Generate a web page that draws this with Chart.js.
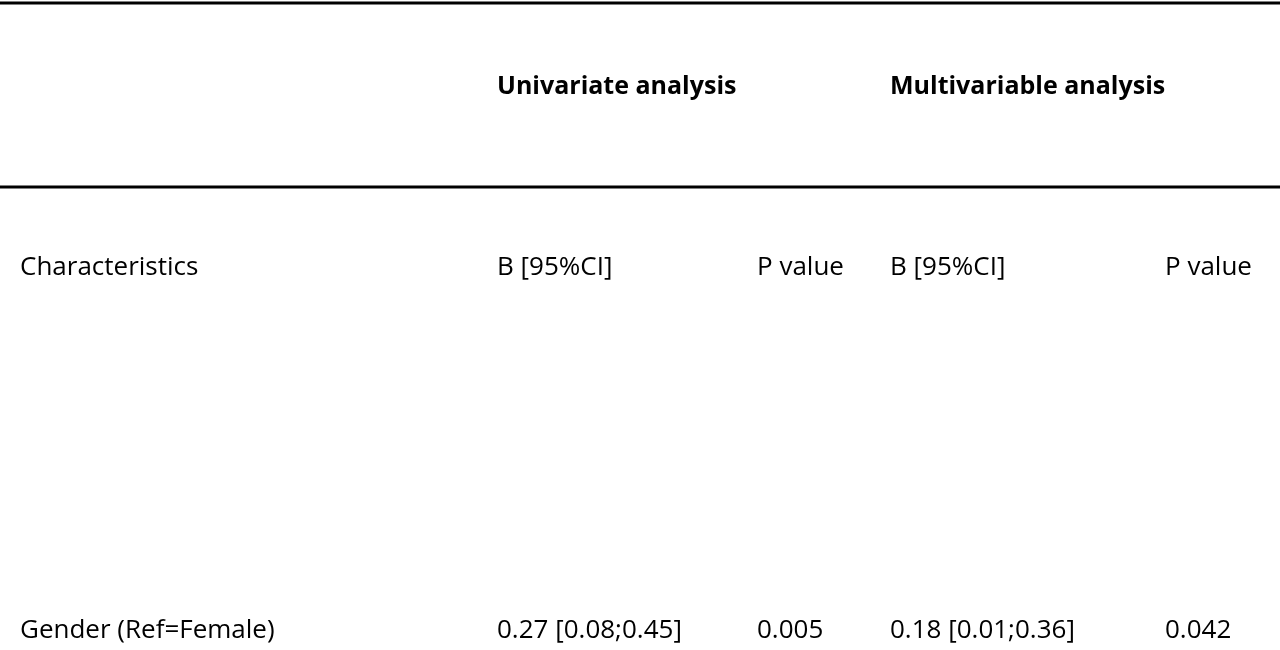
<!DOCTYPE html>
<html><head><meta charset="utf-8">
<script src="https://cdn.jsdelivr.net/npm/chart.js@4"></script>
<style>html,body{margin:0;padding:0;background:#fff}#w{width:1280px;height:650px}</style>
</head><body><div id="w"><canvas id="c"></canvas></div>
<script>
const groupHeaders = ["Univariate analysis", "Multivariable analysis"];
const columnHeaders = ["Characteristics", "B [95%CI]", "P value", "B [95%CI]", "P value"];
const rowLabels = ["Gender (Ref=Female)"];
const uniB = ["0.27 [0.08;0.45]"];
const uniP = ["0.005"];
const multiB = ["0.18 [0.01;0.36]"];
const multiP = ["0.042"];

const colX = [20, 497, 757, 890, 1165];
const FONT = '"Open Sans", "Liberation Sans", sans-serif';

const tablePlugin = {
  id: 'table',
  afterDraw(chart) {
    const ctx = chart.ctx;
    const xs = chart.scales.x, ys = chart.scales.y;
    const X = v => xs.getPixelForValue(v), Y = v => ys.getPixelForValue(v);
    ctx.save();
    ctx.strokeStyle = '#000';
    ctx.lineWidth = 3;
    [3, 187].forEach(y => { ctx.beginPath(); ctx.moveTo(X(0), Y(y)); ctx.lineTo(X(1280), Y(y)); ctx.stroke(); });
    ctx.fillStyle = '#000';
    ctx.textBaseline = 'middle';
    ctx.font = 'bold 25px ' + FONT;
    ctx.fillText(groupHeaders[0], X(colX[1]), Y(87));
    ctx.fillText(groupHeaders[1], X(colX[3]), Y(87));
    ctx.font = '26px ' + FONT;
    columnHeaders.forEach((t, i) => ctx.fillText(t, X(colX[i]), Y(268)));
    rowLabels.forEach((r, i) => {
      const y = Y(631 + i * 60);
      [r, uniB[i], uniP[i], multiB[i], multiP[i]].forEach((t, j) => ctx.fillText(t, X(colX[j]), y));
    });
    ctx.restore();
  }
};

new Chart(document.getElementById('c'), {
  type: 'scatter',
  data: { datasets: [{ data: [] }] },
  options: {
    responsive: true, maintainAspectRatio: false, animation: false,
    layout: { padding: 0 },
    plugins: { legend: { display: false }, tooltip: { enabled: false } },
    scales: {
      x: { type: 'linear', min: 0, max: 1280, display: false },
      y: { type: 'linear', min: 0, max: 650, reverse: true, display: false }
    }
  },
  plugins: [tablePlugin]
});
</script></body></html>
